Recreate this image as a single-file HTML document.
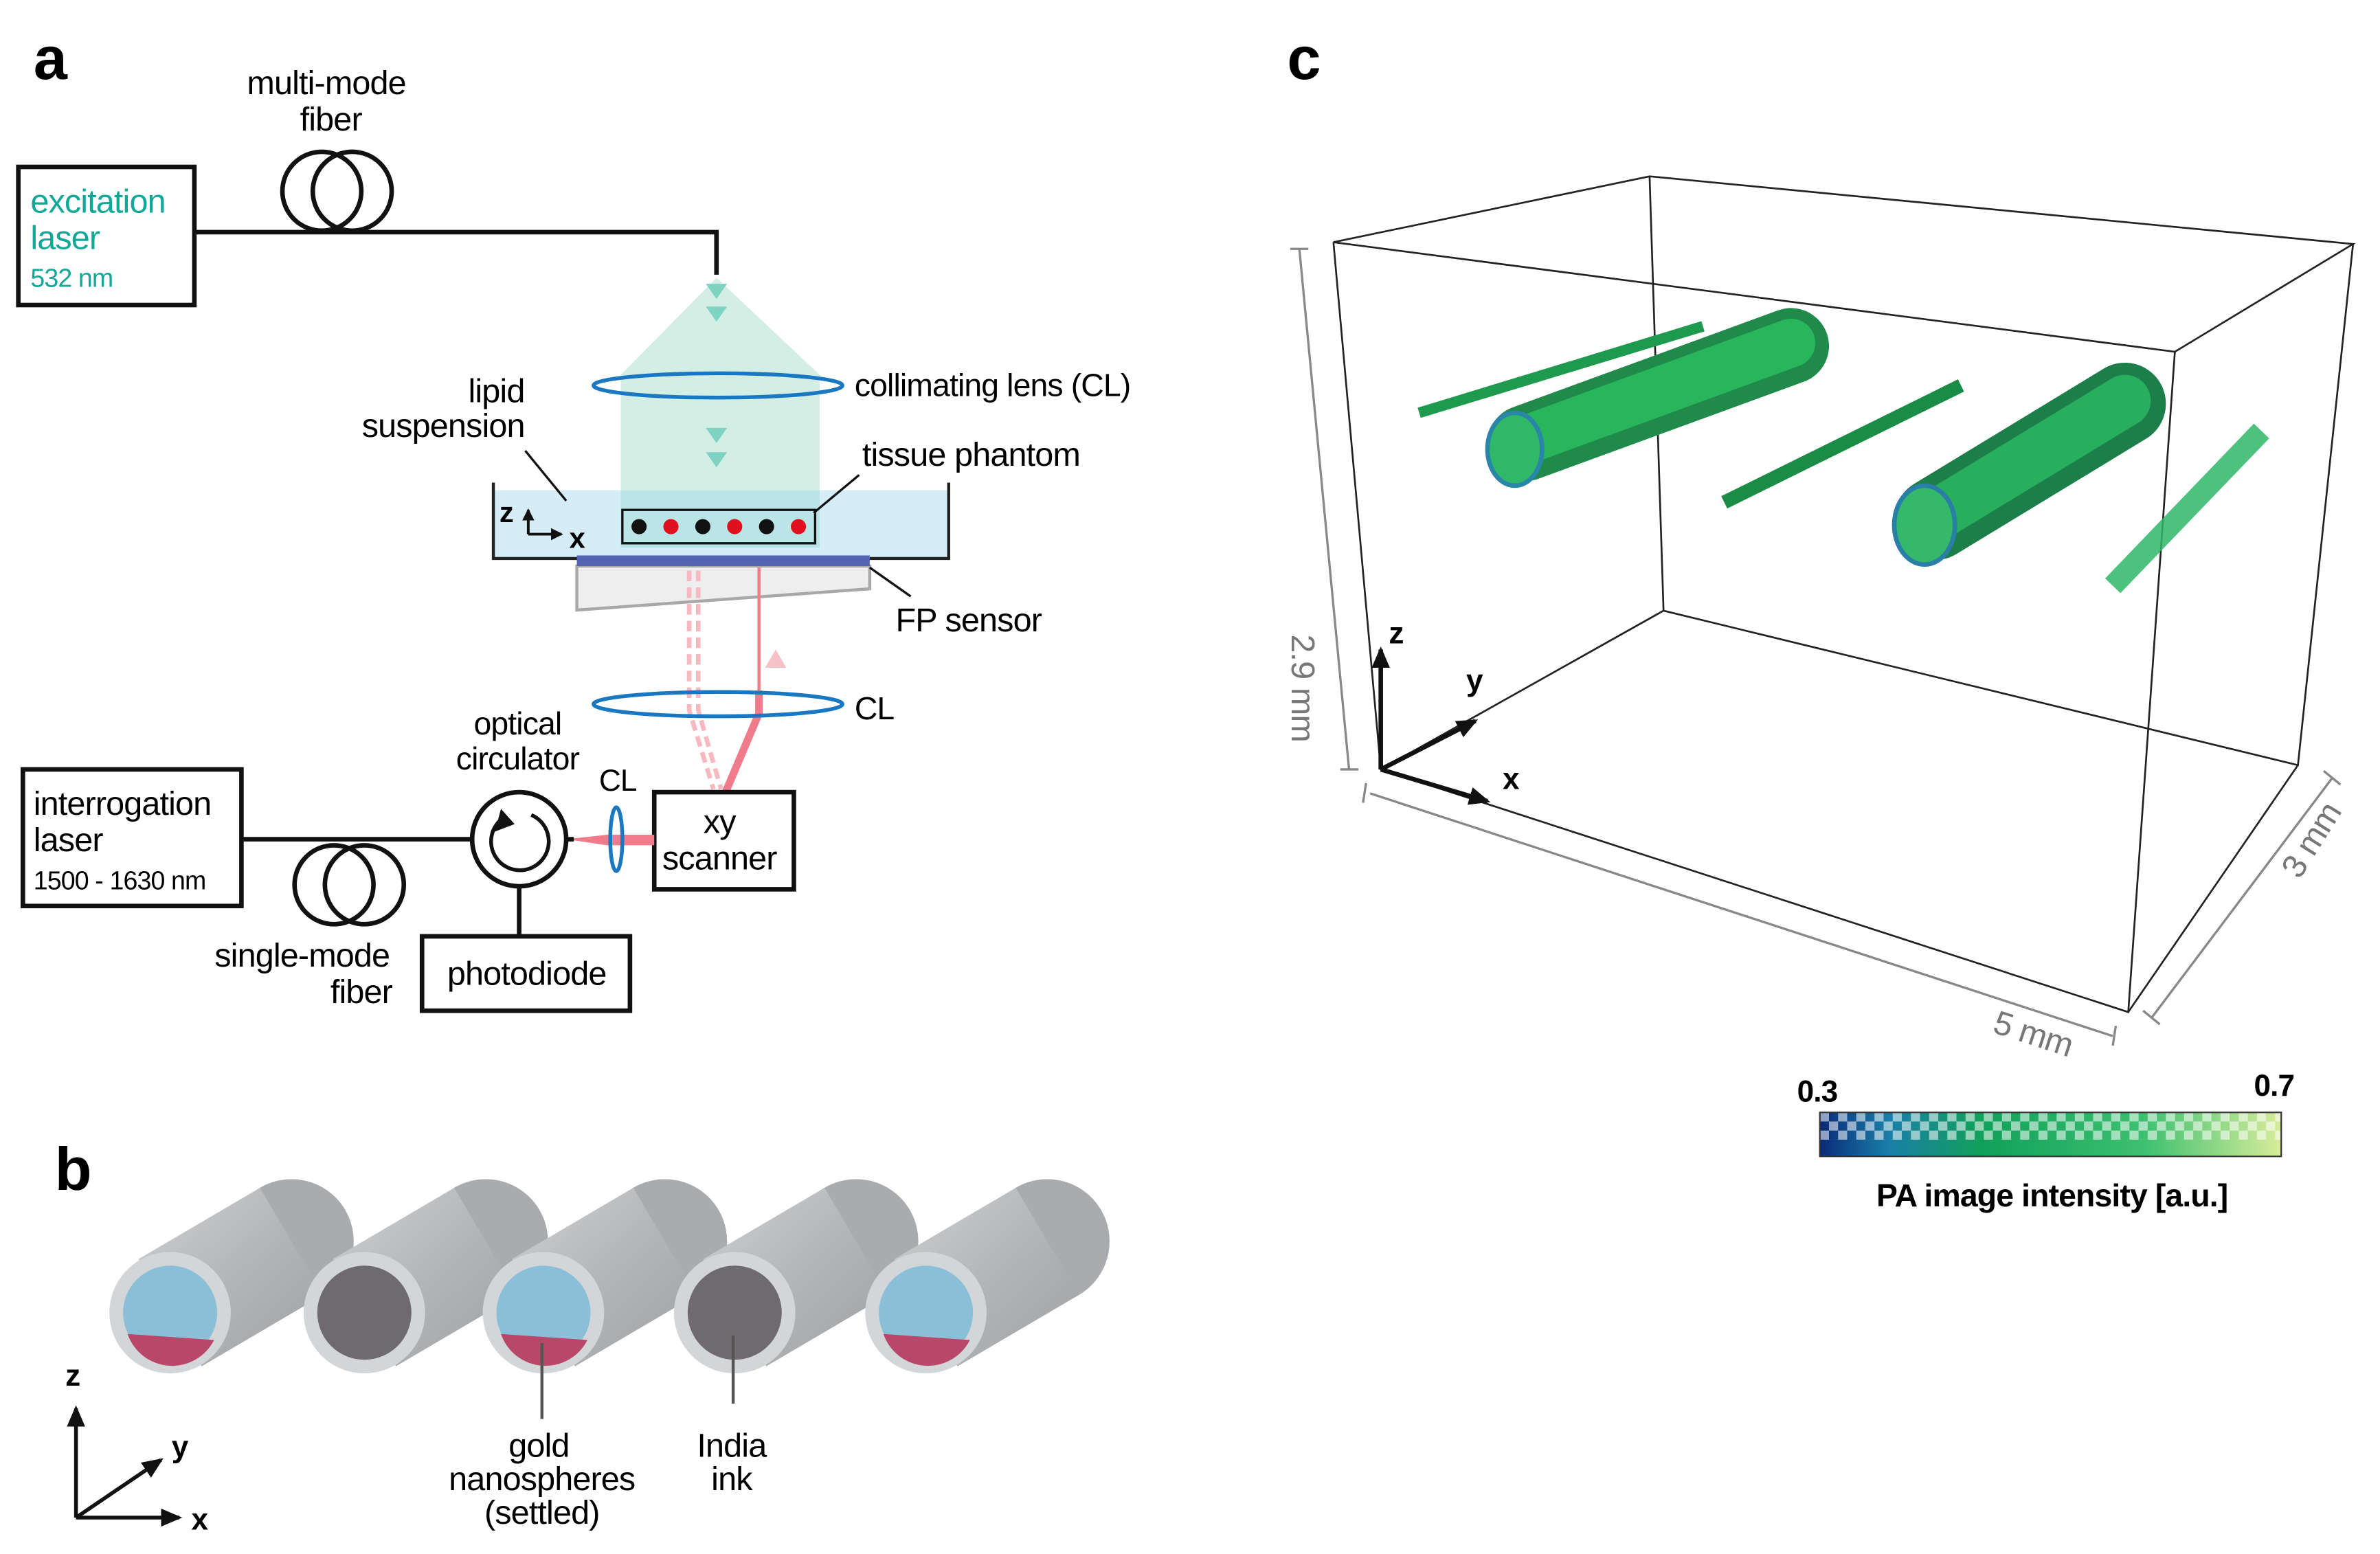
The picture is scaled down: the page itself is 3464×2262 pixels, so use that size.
<!DOCTYPE html>
<html><head><meta charset="utf-8"><style>
html,body{margin:0;padding:0;background:#fff;}
svg{display:block;}
text{font-family:"Liberation Sans",sans-serif;letter-spacing:-0.4px;}
</style></head><body>
<svg width="3464" height="2262" viewBox="0 0 1568 1024" xmlns="http://www.w3.org/2000/svg">
<defs>
<linearGradient id="cyl" x1="0" y1="0" x2="1" y2="1">
<stop offset="0" stop-color="#cfd1d3"/><stop offset="0.5" stop-color="#b3b6b8"/><stop offset="1" stop-color="#9ea1a4"/></linearGradient>
<linearGradient id="cb" x1="0" x2="1">
<stop offset="0" stop-color="#0a2a78"/><stop offset="0.15" stop-color="#1a7fa8"/><stop offset="0.35" stop-color="#11a05a"/><stop offset="0.7" stop-color="#3cc070"/><stop offset="1" stop-color="#d8ec9a"/></linearGradient>
<pattern id="chk" width="12" height="12" patternUnits="userSpaceOnUse" x="1199" y="733">
<rect width="6" height="6" fill="#fff" opacity="0.55"/><rect x="6" y="6" width="6" height="6" fill="#fff" opacity="0.55"/></pattern>
<marker id="ah" markerWidth="8" markerHeight="8" refX="7" refY="4" orient="auto" markerUnits="userSpaceOnUse"><path d="M0,0 L8,4 L0,8 z" fill="#111"/></marker>
<marker id="ahs" markerWidth="14" markerHeight="12" refX="12" refY="6" orient="auto" markerUnits="userSpaceOnUse"><path d="M0,0 L14,6 L0,12 z" fill="#111"/></marker>
<g id="body">
<circle cx="80" cy="-47" r="41" fill="#a9acae"/>
<path d="M20.8,35.3 L100.8,-11.7 L59.2,-82.3 L-20.8,-35.3Z" fill="url(#cyl)"/>
</g>
</defs>

<text x="22" y="52" font-size="40" font-weight="bold">a</text>
<text x="36" y="784" font-size="40" font-weight="bold">b</text>
<text x="848" y="52" font-size="40" font-weight="bold">c</text>

<!-- ===== panel a ===== -->
<path d="M472,183 L409,247 L409,361 L540,361 L540,247 Z" fill="#d3efe5"/>
<g fill="#7fd3c3">
<path d="M465,187 h14 l-7,10z"/><path d="M465,202 h14 l-7,10z"/>
<path d="M465,282 h14 l-7,10z"/><path d="M465,298 h14 l-7,10z"/>
</g>
<rect x="325" y="323" width="300" height="45" fill="#cdeaf6" opacity="0.85"/>
<path d="M409,323 h131 v38 h-131z" fill="#aee0dc" opacity="0.6"/>
<path d="M325,318 V368 H625 V318" fill="none" stroke="#222" stroke-width="2"/>
<rect x="410" y="336" width="127" height="22" fill="none" stroke="#111" stroke-width="1.5"/>
<g><circle cx="421" cy="347" r="5" fill="#111"/><circle cx="442" cy="347" r="5" fill="#e0101e"/><circle cx="463" cy="347" r="5" fill="#111"/><circle cx="484" cy="347" r="5" fill="#e0101e"/><circle cx="505" cy="347" r="5" fill="#111"/><circle cx="526" cy="347" r="5" fill="#e0101e"/></g>
<text x="329" y="344" font-size="19" font-weight="bold">z</text>
<path d="M348,352 V336" stroke="#111" stroke-width="1.8" marker-end="url(#ah)"/>
<path d="M348,352 H370" stroke="#111" stroke-width="1.8" marker-end="url(#ah)"/>
<text x="375" y="361" font-size="19" font-weight="bold">x</text>
<polygon points="380,373 573,373 573,388 380,402" fill="#eeeeee" stroke="#a8a8a8" stroke-width="2"/>
<rect x="380" y="366" width="193" height="7" fill="#5563b3"/>
<text x="215" y="62" font-size="22" text-anchor="middle">multi-mode</text>
<text x="218" y="86" font-size="22" text-anchor="middle">fiber</text>
<rect x="12" y="110" width="116" height="91" fill="none" stroke="#111" stroke-width="3"/>
<text x="20" y="140" font-size="22" fill="#12a898">excitation</text>
<text x="20" y="164" font-size="22" fill="#12a898">laser</text>
<text x="20" y="189" font-size="17" fill="#12a898">532 nm</text>
<path d="M128,153 H472 V181" fill="none" stroke="#111" stroke-width="3"/>
<circle cx="212" cy="126" r="26" fill="none" stroke="#111" stroke-width="3"/>
<circle cx="232" cy="126" r="26" fill="none" stroke="#111" stroke-width="3"/>
<ellipse cx="473" cy="254" rx="82" ry="8" fill="none" stroke="#1a78c2" stroke-width="2.5"/>
<text x="563" y="261" font-size="21">collimating lens (CL)</text>
<text x="327" y="265" font-size="22" text-anchor="middle">lipid</text>
<text x="292" y="288" font-size="22" text-anchor="middle">suspension</text>
<path d="M346,297 L373,330" stroke="#111" stroke-width="1.5"/>
<text x="568" y="307" font-size="22">tissue phantom</text>
<path d="M566,313 L536,338" stroke="#111" stroke-width="1.5"/>
<path d="M573,374 L600,393" stroke="#111" stroke-width="1.5"/>
<text x="590" y="416" font-size="22">FP sensor</text>
<g stroke="#f7b9c0" stroke-width="3" stroke-dasharray="7,4" fill="none">
<path d="M454,376 V468 L470,520"/><path d="M460,376 V468 L475,520"/>
</g>
<path d="M500,374 V455" stroke="#f07b8a" stroke-width="2" fill="none"/>
<path d="M500,455 V470 L478,522" stroke="#f07b8a" stroke-width="5" fill="none"/>
<path d="M504,440 l7,-12 l7,12z" fill="#f7c1c8"/>
<ellipse cx="473" cy="464" rx="82" ry="8" fill="none" stroke="#1a78c2" stroke-width="2.5"/>
<text x="563" y="474" font-size="21">CL</text>
<rect x="431" y="522" width="92" height="64" fill="#fff" stroke="#111" stroke-width="3"/>
<text x="474" y="549" font-size="22" text-anchor="middle">xy</text>
<text x="474" y="573" font-size="22" text-anchor="middle">scanner</text>
<path d="M373,553 L400,550 H431 V557 H400 Z" fill="#f07b8a"/>
<ellipse cx="406" cy="553" rx="4" ry="21" fill="none" stroke="#1a78c2" stroke-width="2.5"/>
<text x="407" y="521" font-size="20" text-anchor="middle">CL</text>
<text x="341" y="484" font-size="21" text-anchor="middle">optical</text>
<text x="341" y="507" font-size="21" text-anchor="middle">circulator</text>
<circle cx="342" cy="553" r="31" fill="#fff" stroke="#111" stroke-width="3"/>
<path d="M333,538 A19,19 0 1 0 350,537" fill="none" stroke="#111" stroke-width="2.5"/>
<path d="M326,548 L330,533 L339,543z" fill="#111"/>
<path d="M372,553 H378" stroke="#111" stroke-width="3"/>
<rect x="15" y="507" width="144" height="90" fill="none" stroke="#111" stroke-width="3"/>
<text x="22" y="537" font-size="22">interrogation</text>
<text x="22" y="561" font-size="22">laser</text>
<text x="22" y="586" font-size="17">1500 - 1630 nm</text>
<path d="M159,553 H311" stroke="#111" stroke-width="3"/>
<circle cx="220" cy="583" r="26" fill="none" stroke="#111" stroke-width="3"/>
<circle cx="240" cy="583" r="26" fill="none" stroke="#111" stroke-width="3"/>
<text x="199" y="637" font-size="22" text-anchor="middle">single-mode</text>
<text x="238" y="661" font-size="22" text-anchor="middle">fiber</text>
<path d="M342,584 V617" stroke="#111" stroke-width="3"/>
<rect x="278" y="617" width="137" height="49" fill="#fff" stroke="#111" stroke-width="3"/>
<text x="347" y="649" font-size="22" text-anchor="middle">photodiode</text>

<!-- ===== panel b ===== -->
<g transform="translate(112,865)"><use href="#body"/>
<circle r="40" fill="#d2d6d8"/><circle r="31" fill="#8bbfd8"/><path d="M-28,14 L29,18 A31,31 0 0 1 -28,14Z" fill="#b9476a"/></g>
<g transform="translate(240,865)"><use href="#body"/>
<circle r="40" fill="#d2d6d8"/><circle r="31" fill="#6e6a6e"/></g>
<g transform="translate(358,865)"><use href="#body"/>
<circle r="40" fill="#d2d6d8"/><circle r="31" fill="#8bbfd8"/><path d="M-28,14 L29,18 A31,31 0 0 1 -28,14Z" fill="#b9476a"/></g>
<g transform="translate(484,865)"><use href="#body"/>
<circle r="40" fill="#d2d6d8"/><circle r="31" fill="#6e6a6e"/></g>
<g transform="translate(610,865)"><use href="#body"/>
<circle r="40" fill="#d2d6d8"/><circle r="31" fill="#8bbfd8"/><path d="M-28,14 L29,18 A31,31 0 0 1 -28,14Z" fill="#b9476a"/></g>
<path d="M357,885 V935" stroke="#555" stroke-width="2"/>
<path d="M483,880 V925" stroke="#555" stroke-width="2"/>
<text x="355" y="960" font-size="22" text-anchor="middle">gold</text>
<text x="357" y="982" font-size="22" text-anchor="middle">nanospheres</text>
<text x="357" y="1004" font-size="22" text-anchor="middle">(settled)</text>
<text x="482" y="960" font-size="22" text-anchor="middle">India</text>
<text x="482" y="982" font-size="22" text-anchor="middle">ink</text>
<path d="M50,1000 V928" stroke="#111" stroke-width="2.5" marker-end="url(#ahs)"/>
<path d="M50,1000 H118" stroke="#111" stroke-width="2.5" marker-end="url(#ahs)"/>
<path d="M50,1000 L106,962" stroke="#111" stroke-width="2.5" marker-end="url(#ahs)"/>
<text x="43" y="913" font-size="20" font-weight="bold">z</text>
<text x="113" y="960" font-size="20" font-weight="bold">y</text>
<text x="126" y="1008" font-size="20" font-weight="bold">x</text>

<!-- ===== panel c ===== -->
<g stroke="#222" stroke-width="1.2" fill="none">
<path d="M878.5,159.6 L1086.8,116.2 L1550.3,160.8 L1432.9,231.8 Z"/>
<path d="M878.5,159.6 L909.7,507 L1402.2,666.9 L1432.9,231.8"/>
<path d="M1086.8,116.2 L1096,402.4 L1514,504.2 L1550.3,160.8"/>
<path d="M1096,402.4 L909.7,507"/><path d="M1514,504.2 L1402.2,666.9"/>
</g>
<g>
<path d="M935,272 L1122,215" stroke="#1e9a4e" stroke-width="7"/>
<path d="M1136,331 L1292,254" stroke="#1a8c46" stroke-width="9"/>
<path d="M1392,386 L1490,284" stroke="#2fb868" stroke-width="14" opacity="0.85"/>
<path d="M1005,292 L1180,228" stroke="#1f8a4a" stroke-width="50" stroke-linecap="round"/>
<path d="M1005,290 L1180,226" stroke="#2cc060" stroke-width="32" opacity="0.8" stroke-linecap="round"/>
<ellipse cx="998" cy="296" rx="18" ry="24" fill="#2fb865" stroke="#2a86a8" stroke-width="3"/>
<path d="M1275,342 L1400,266" stroke="#1c7e48" stroke-width="54" stroke-linecap="round"/>
<path d="M1275,340 L1400,264" stroke="#2cc064" stroke-width="34" opacity="0.75" stroke-linecap="round"/>
<ellipse cx="1268" cy="346" rx="20" ry="26" fill="#34b86a" stroke="#2a7fa6" stroke-width="3"/>
</g>
<path d="M909.7,507 V428" stroke="#111" stroke-width="3" marker-end="url(#ahs)"/>
<path d="M909.7,507 L972,475" stroke="#111" stroke-width="3" marker-end="url(#ahs)"/>
<path d="M909.7,507 L980,528" stroke="#111" stroke-width="3" marker-end="url(#ahs)"/>
<text x="915" y="424" font-size="20" font-weight="bold">z</text>
<text x="966" y="455" font-size="20" font-weight="bold">y</text>
<text x="990" y="520" font-size="20" font-weight="bold">x</text>
<g stroke="#888" stroke-width="1.5" fill="none">
<path d="M856,163.5 L888.8,507"/><path d="M850,164 h12"/><path d="M883,507 h12"/>
<path d="M902.7,522.8 L1391.9,682.7"/><path d="M900,516 l-2,13"/><path d="M1394,676 l-2,13"/>
<path d="M1417.5,670.8 L1536.4,512.9"/><path d="M1412,666 l11,9"/><path d="M1531,508 l11,9"/>
</g>
<text transform="translate(851,418) rotate(90)" font-size="22" fill="#777">2.9 mm</text>
<text transform="translate(1312,680) rotate(18)" font-size="22" fill="#777">5 mm</text>
<text transform="translate(1515,580) rotate(-58)" font-size="22" fill="#777">3 mm</text>
<rect x="1199" y="733" width="304" height="29" fill="url(#cb)"/>
<rect x="1199" y="733" width="304" height="18" fill="url(#chk)"/>
<rect x="1199" y="733" width="304" height="29" fill="none" stroke="#333" stroke-width="1"/>
<text x="1184" y="726" font-size="20" font-weight="bold">0.3</text>
<text x="1485" y="722" font-size="20" font-weight="bold">0.7</text>
<text x="1352" y="795" font-size="21" font-weight="bold" text-anchor="middle">PA image intensity [a.u.]</text>
</svg>
</body></html>
